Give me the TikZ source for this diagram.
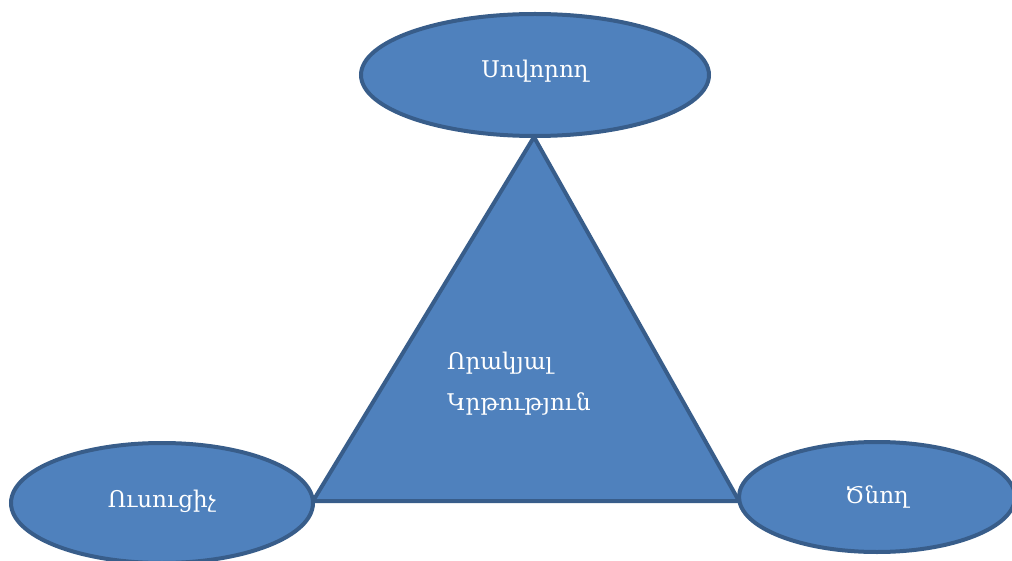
\documentclass[tikz,border=0pt]{standalone}
\usepackage{fontspec}
\setmainfont{DejaVu Serif}
\definecolor{fillblue}{HTML}{4F81BD}
\definecolor{edgeblue}{HTML}{385D8A}
\usetikzlibrary{shapes.geometric}
\tikzset{
  part/.style={ellipse,draw=edgeblue,fill=fillblue,line width=4pt,text=white,font=\fontsize{23}{27}\selectfont,inner sep=0pt},
  core/.style={draw=edgeblue,fill=fillblue,line width=4pt,line join=miter}
}
\begin{document}
\begin{tikzpicture}[x=1pt,y=-1pt]
      \useasboundingbox (0,0) rectangle (1012,561);
      \coordinate (apex) at (534,137);
      \coordinate (baseL) at (313,501);
      \coordinate (baseR) at (739,501);
      \draw[core] (apex) -- (baseL) -- (baseR) -- cycle;
      \node[anchor=north west,text=white,align=left,font=\fontsize{23}{41}\selectfont,inner sep=0pt] (quality) at (447,352) {Որակյալ\\Կրթություն};
      \draw
        (535,75) node[part,minimum width=348pt,minimum height=122pt,text depth=12pt] (learner){Սովորող}
        (162,503) node[part,minimum width=302pt,minimum height=120pt,text depth=8pt] (teacher){Ուսուցիչ}
        (877,497) node[part,minimum width=276pt,minimum height=110pt] (parent){Ծնող};
    \end{tikzpicture}
\end{document}
